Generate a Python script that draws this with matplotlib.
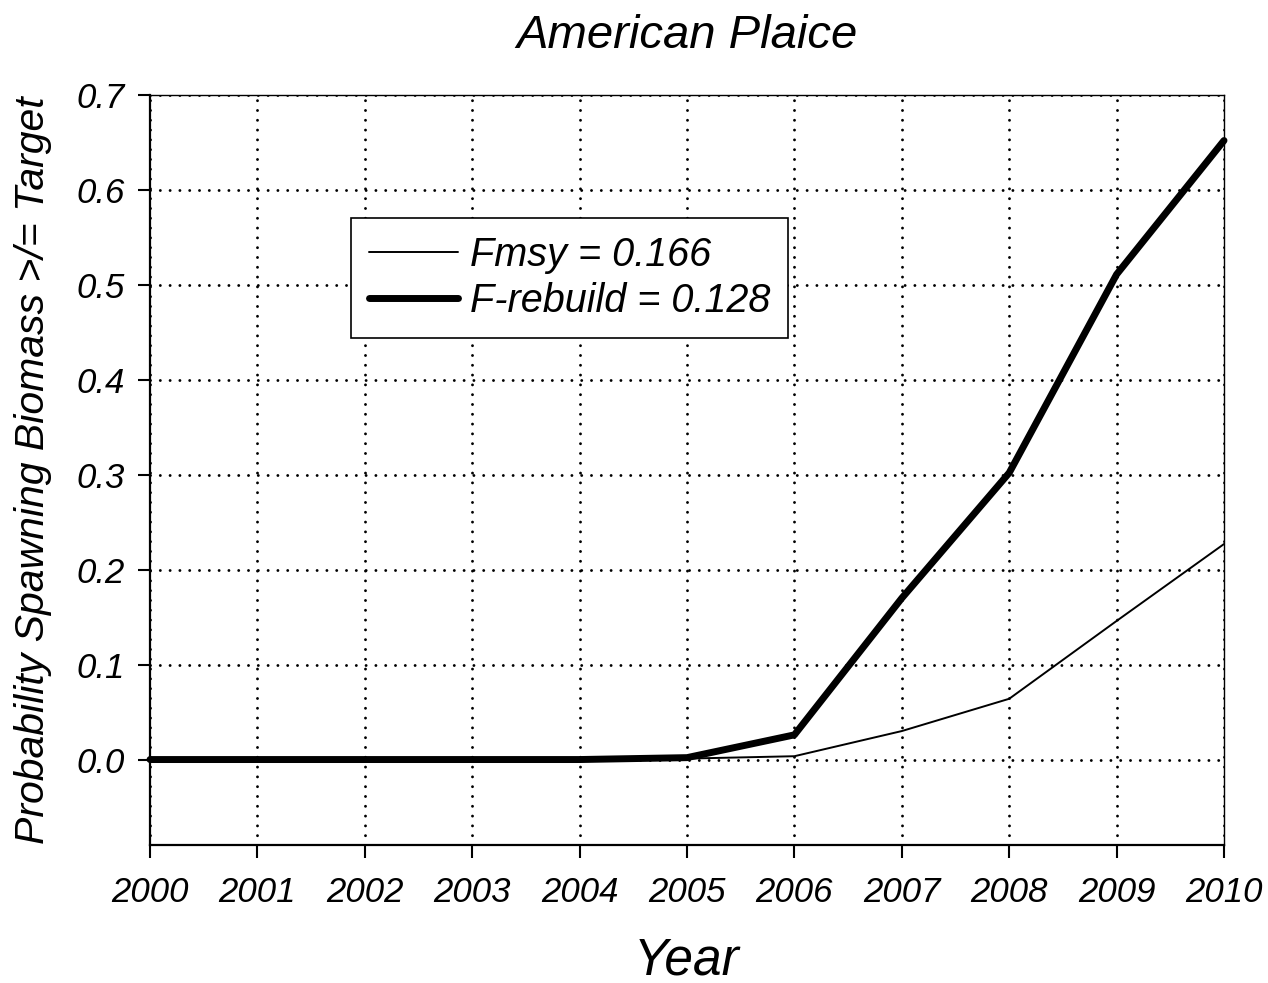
import matplotlib
matplotlib.use("Agg")
import matplotlib.pyplot as plt

plt.rcParams['font.family'] = ['Liberation Sans', 'DejaVu Sans']

years = [2000, 2001, 2002, 2003, 2004, 2005, 2006, 2007, 2008, 2009, 2010]
fmsy = [0.0, 0.0, 0.0, 0.0, 0.0, 0.001, 0.0035, 0.030, 0.064, 0.146, 0.227]
frebuild = [0.0, 0.0, 0.0, 0.0, 0.0, 0.002, 0.026, 0.170, 0.302, 0.511, 0.652]
yticks = [0.0, 0.1, 0.2, 0.3, 0.4, 0.5, 0.6, 0.7]
fmsy_label = "Fmsy = 0.166"
frebuild_label = "F-rebuild = 0.128"

fig = plt.figure(figsize=(12.68, 9.83), dpi=100)
ax = fig.add_axes([0.1183, 0.1404, 0.8470, 0.7630])

ax.plot(years, fmsy, color='black', lw=1.4, label=fmsy_label,
        solid_capstyle='round', clip_on=False, zorder=3)
ax.plot(years, frebuild, color='black', lw=5.0, label=frebuild_label,
        solid_capstyle='round', solid_joinstyle='round', clip_on=False, zorder=4)

ax.set_xlim(2000, 2010)
ax.set_ylim(-0.09, 0.7)
ax.set_xticks(years)
ax.set_xticklabels([str(y) for y in years])
ax.set_yticks(yticks)
ax.set_yticklabels([f"{v:.1f}" for v in yticks])

for lab in ax.get_xticklabels() + ax.get_yticklabels():
    lab.set_fontstyle('italic')
    lab.set_fontsize(25)

ax.tick_params(axis='both', direction='out', length=9, width=1.5, colors='black')
ax.tick_params(axis='x', pad=13)
ax.tick_params(axis='y', pad=9)

# dotted grid made of round dots
ax.grid(True, color='black', linewidth=2.1,
        linestyle=(0, (0.01, 3.35)))
for gl in ax.get_xgridlines() + ax.get_ygridlines():
    gl.set_dash_capstyle('round')

for side in ['left', 'bottom']:
    ax.spines[side].set_linewidth(1.6)
for side in ['right', 'top']:
    ax.spines[side].set_linewidth(1.0)

ax.set_title("American Plaice", fontsize=34, fontstyle='italic', pad=34)
ax.set_xlabel("Year", fontsize=37, fontstyle='italic', labelpad=20)
ax.set_ylabel("Probability Spawning Biomass >/= Target", fontsize=29.5,
              fontstyle='italic', labelpad=18)

leg = ax.legend(loc='upper left', bbox_to_anchor=(0.187, 0.836),
                frameon=True, fancybox=False,
                edgecolor='black', handlelength=2.25, handletextpad=0.3,
                borderpad=0.45, borderaxespad=0.0, labelspacing=0.2,
                prop={'style': 'italic', 'size': 28.5})
leg.get_frame().set_linewidth(1.2)
leg.get_frame().set_alpha(1.0)
leg.set_zorder(5)

fig.savefig("out.png", dpi=100)
